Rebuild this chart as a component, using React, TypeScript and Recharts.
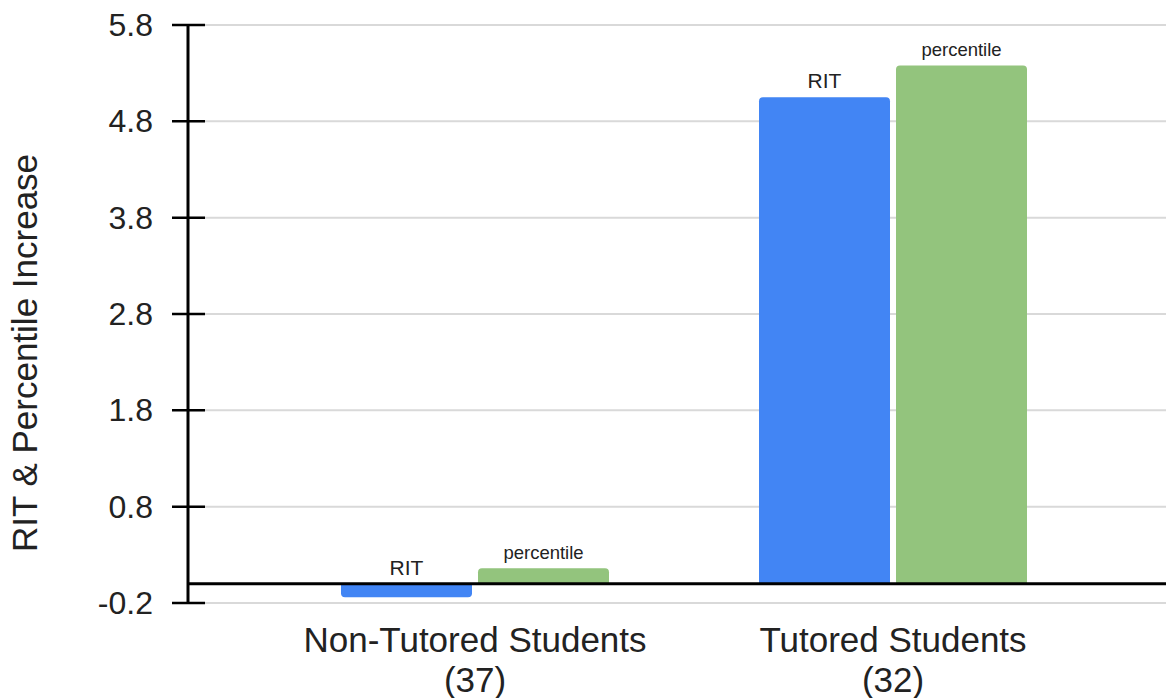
import React from "react";
import {
  BarChart,
  Bar,
  XAxis,
  YAxis,
  CartesianGrid,
  ReferenceLine,
  LabelList,
} from "recharts";

const categories = ["Non-Tutored Students", "Tutored Students"];
const studentCounts = [37, 32];
const ritIncrease = [-0.14, 5.05];
const percentileIncrease = [0.16, 5.38];
const yTicks = [-0.2, 0.8, 1.8, 2.8, 3.8, 4.8, 5.8];

const FONT = "'Liberation Sans', Arial, sans-serif";

const data = categories.map((name, i) => ({
  name,
  count: studentCounts[i],
  rit: ritIncrease[i],
  percentile: percentileIncrease[i],
}));

const YTick = (props: any) => {
  const { y, payload } = props;
  return (
    <g>
      <line x1={172} x2={205} y1={y} y2={y} stroke="#000" strokeWidth={2.5} />
      <text x={153} y={y} dy={11} textAnchor="end" fontSize={32} fontFamily={FONT} fill="#222">
        {payload.value.toFixed(1)}
      </text>
    </g>
  );
};

const XTick = (props: any) => {
  const { x, payload, index } = props;
  return (
    <g>
      <text x={x} y={652} textAnchor="middle" fontSize={35} fontFamily={FONT} fill="#222">
        {payload.value}
      </text>
      <text x={x} y={692} textAnchor="middle" fontSize={35} fontFamily={FONT} fill="#222">
        ({studentCounts[index]})
      </text>
    </g>
  );
};

const barLabel = (text: string, size: number) => (props: any) => {
  const { x, y, width, height } = props;
  const top = Math.min(y, y + height);
  return (
    <text x={x + width / 2} y={top - 9} textAnchor="middle" fontSize={size} fontFamily={FONT} fill="#222">
      {text}
    </text>
  );
};

export default function App() {
  return (
    <div style={{ position: "absolute", left: 0, top: 0, width: 1166, height: 698, background: "#fff" }}>
      <BarChart
        width={1166}
        height={698}
        data={data}
        margin={{ top: 25, right: 0, bottom: 0, left: 0 }}
        barSize={131}
        barGap={6}
      >
        <CartesianGrid vertical={false} stroke="#d9d9d9" strokeWidth={2} />
        <XAxis
          dataKey="name"
          height={95}
          axisLine={false}
          tickLine={false}
          padding={{ left: 78, right: 64 }}
          tick={<XTick />}
          interval={0}
        />
        <YAxis
          width={188}
          domain={[-0.2, 5.8]}
          ticks={yTicks}
          interval={0}
          axisLine={{ stroke: "#000", strokeWidth: 3 }}
          tickLine={false}
          tick={<YTick />}
          label={{
            value: "RIT & Percentile Increase",
            angle: -90,
            position: "insideLeft",
            content: () => (
              <text
                x={37}
                y={353}
                transform="rotate(-90, 37, 353)"
                textAnchor="middle"
                fontSize={35}
                fontFamily={FONT}
                fill="#222"
              >
                RIT &amp; Percentile Increase
              </text>
            ),
          }}
        />
        <Bar dataKey="rit" fill="#4285F4" radius={[4, 4, 0, 0]} isAnimationActive={false}>
          <LabelList dataKey="rit" content={barLabel("RIT", 21)} />
        </Bar>
        <Bar dataKey="percentile" fill="#93C47D" radius={[4, 4, 0, 0]} isAnimationActive={false}>
          <LabelList dataKey="percentile" content={barLabel("percentile", 18.5)} />
        </Bar>
        <ReferenceLine y={0} stroke="#000" strokeWidth={3} />
      </BarChart>
    </div>
  );
}
